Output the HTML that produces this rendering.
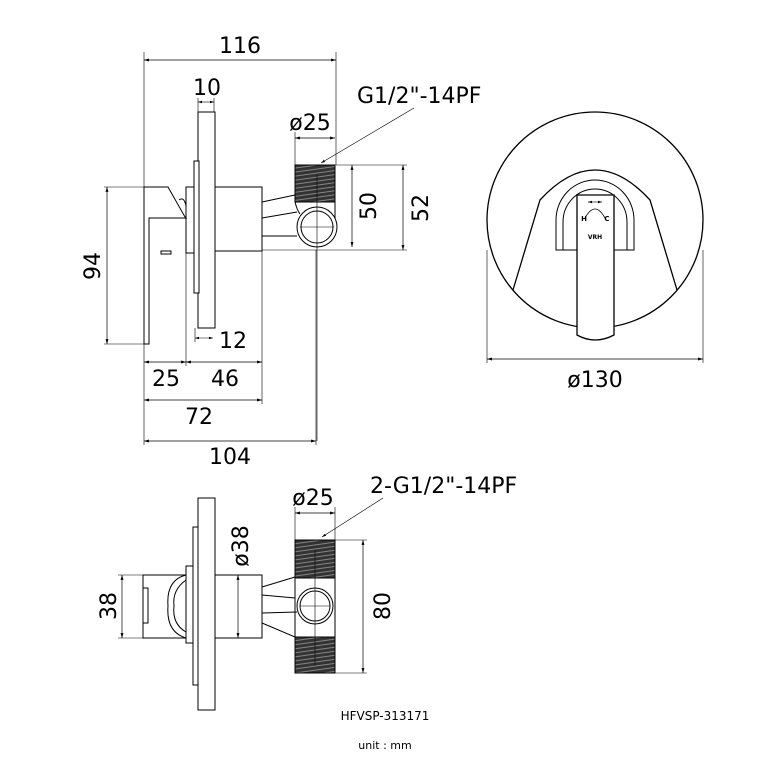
<!DOCTYPE html>
<html><head><meta charset="utf-8"><style>
html,body{margin:0;padding:0;background:#fff;}
svg{display:block;}
text{font-family:"DejaVu Sans","Liberation Sans",sans-serif;fill:#000;}
</style></head><body>
<svg width="768" height="768" viewBox="0 0 768 768" xmlns="http://www.w3.org/2000/svg">
<defs>
<marker id="a" viewBox="0 0 10 10" refX="10" refY="5" markerWidth="7" markerHeight="7" orient="auto-start-reverse"><path d="M0,2 L10,5 L0,8 z" fill="#000"/></marker>
<pattern id="th" width="4" height="4" patternUnits="userSpaceOnUse" patternTransform="rotate(-8)"><rect width="4" height="4" fill="#333"/><line x1="0" y1="3.5" x2="4" y2="3.5" stroke="#999" stroke-width="0.8"/></pattern>
</defs>
<g fill="none" stroke="#000" stroke-width="1">
<line x1="144" y1="60" x2="336" y2="60" stroke-width="0.7" marker-start="url(#a)" marker-end="url(#a)"/>
<line x1="144" y1="52" x2="144" y2="187" stroke-width="0.6"/>
<line x1="336" y1="52" x2="336" y2="165" stroke-width="0.6"/>
<line x1="198" y1="102" x2="214" y2="102" stroke-width="0.6" marker-start="url(#a)" marker-end="url(#a)"/>
<line x1="198" y1="98" x2="198" y2="112" stroke-width="0.6"/>
<line x1="214" y1="98" x2="214" y2="112" stroke-width="0.6"/>
<rect x="198" y="112" width="17" height="216" fill="#fff"/>
<rect x="194" y="161" width="5" height="132" fill="#fff"/>
<rect x="186" y="187" width="8" height="66" fill="#fff"/>
<rect x="215" y="187" width="47" height="64" fill="#fff"/>
<path d="M144,187 L168,187 L185,217 L186,218 L149,218 L149,344 L144,344 Z" fill="#fff"/>
<line x1="149" y1="218" x2="149" y2="251"/>
<path d="M179,200 q5,-4 7,6 l0,10" />
<rect x="161" y="251" width="10" height="3" fill="#fff"/>
<line x1="262" y1="202" x2="295" y2="195"/>
<line x1="262" y1="218" x2="297" y2="212"/>
<line x1="262" y1="236" x2="297" y2="236"/>
<rect x="295" y="165" width="40" height="37" fill="url(#th)"/>
<path d="M295,165 L295,202 Q297,210 300,214 M335,165 L335,228"/>
<circle cx="317" cy="227" r="20" fill="#fff"/>
<circle cx="317" cy="227" r="16"/>
<line x1="317" y1="175" x2="317" y2="441" stroke-width="0.6"/>
<line x1="300" y1="227" x2="334" y2="227" stroke-width="0.6"/>
<line x1="336" y1="165" x2="407" y2="165" stroke-width="0.6"/>
<line x1="262" y1="250" x2="407" y2="250" stroke-width="0.6"/>
<line x1="352" y1="165" x2="352" y2="247" stroke-width="0.7" marker-start="url(#a)" marker-end="url(#a)"/>
<line x1="403" y1="165" x2="403" y2="250" stroke-width="0.7" marker-start="url(#a)" marker-end="url(#a)"/>
<line x1="295" y1="132" x2="295" y2="165" stroke-width="0.6"/>
<line x1="295" y1="138" x2="335" y2="138" stroke-width="0.7" marker-start="url(#a)" marker-end="url(#a)"/>
<line x1="414" y1="108" x2="321" y2="163" stroke-width="0.6" marker-end="url(#a)"/>
<line x1="107" y1="187" x2="107" y2="344" stroke-width="0.7" marker-start="url(#a)" marker-end="url(#a)"/>
<line x1="104" y1="187" x2="144" y2="187" stroke-width="0.6"/>
<line x1="104" y1="344" x2="149" y2="344" stroke-width="0.6"/>
<line x1="195" y1="338" x2="213" y2="338" stroke-width="0.6" marker-start="url(#a)" marker-end="url(#a)"/>
<line x1="195" y1="328" x2="195" y2="342" stroke-width="0.6"/>
<line x1="144" y1="344" x2="144" y2="445" stroke-width="0.6"/>
<line x1="186" y1="253" x2="186" y2="366" stroke-width="0.6"/>
<line x1="262" y1="251" x2="262" y2="404" stroke-width="0.6"/>
<line x1="316" y1="250" x2="316" y2="445" stroke-width="0.6"/>
<line x1="144" y1="362" x2="186" y2="362" stroke-width="0.7" marker-start="url(#a)" marker-end="url(#a)"/>
<line x1="186" y1="362" x2="262" y2="362" stroke-width="0.7" marker-start="url(#a)" marker-end="url(#a)"/>
<line x1="144" y1="400" x2="262" y2="400" stroke-width="0.7" marker-start="url(#a)" marker-end="url(#a)"/>
<line x1="144" y1="441" x2="316" y2="441" stroke-width="0.7" marker-start="url(#a)" marker-end="url(#a)"/>
<circle cx="595" cy="220" r="108" stroke-width="1.3"/>
<path d="M513,290 L540,200 Q595,140 650,200 L677,290" stroke-width="1.3"/>
<path d="M556,250 L556,220 A39,40 0 0 1 634,220 L634,250 Z" stroke-width="1"/>
<path d="M563,250 L563,222 A32,33 0 0 1 627,222 L627,250" stroke-width="1"/>
<path d="M577,195 L614,195 L614,335 Q595,345 577,335 Z" fill="#fff" stroke-width="1.3"/>
<path d="M585,218 Q595,200 605,218" stroke-width="0.8"/>
<line x1="588" y1="202" x2="602" y2="202" stroke-width="0.6" marker-start="url(#a)" marker-end="url(#a)"/>
<line x1="487" y1="250" x2="487" y2="363" stroke-width="0.6"/>
<line x1="703" y1="250" x2="703" y2="363" stroke-width="0.6"/>
<line x1="487" y1="359" x2="703" y2="359" stroke-width="0.7" marker-start="url(#a)" marker-end="url(#a)"/>
<rect x="198" y="498" width="17" height="212" fill="#fff"/>
<rect x="193" y="527" width="5" height="158" fill="#fff"/>
<rect x="186" y="566" width="7" height="77" fill="#fff"/>
<rect x="143" y="575" width="43" height="63" fill="#fff"/>
<rect x="143" y="588" width="5" height="35"/>
<path d="M186,575 Q166,580 168,606 Q166,632 186,638"/>
<path d="M186,580 Q172,590 174,606 Q172,624 186,632"/>
<rect x="215" y="575" width="47" height="63" fill="#fff"/>
<line x1="262" y1="587" x2="295" y2="577"/>
<line x1="262" y1="595" x2="295" y2="598"/>
<line x1="262" y1="613" x2="297" y2="612"/>
<line x1="262" y1="623" x2="295" y2="637"/>
<rect x="295" y="540" width="40" height="38" fill="url(#th)"/>
<rect x="295" y="637" width="40" height="36" fill="url(#th)"/>
<path d="M295,578 L295,637 M335,578 L335,637"/>
<circle cx="315" cy="606" r="18" fill="#fff"/>
<circle cx="315" cy="606" r="15"/>
<line x1="315" y1="550" x2="315" y2="665" stroke-width="0.6"/>
<line x1="300" y1="606" x2="330" y2="606" stroke-width="0.6"/>
<line x1="335" y1="540" x2="367" y2="540" stroke-width="0.6"/>
<line x1="335" y1="673" x2="367" y2="673" stroke-width="0.6"/>
<line x1="363" y1="540" x2="363" y2="673" stroke-width="0.7" marker-start="url(#a)" marker-end="url(#a)"/>
<line x1="295" y1="507" x2="295" y2="540" stroke-width="0.6"/>
<line x1="335" y1="507" x2="335" y2="540" stroke-width="0.6"/>
<line x1="295" y1="513" x2="335" y2="513" stroke-width="0.7" marker-start="url(#a)" marker-end="url(#a)"/>
<line x1="383" y1="498" x2="322" y2="537" stroke-width="0.6" marker-end="url(#a)"/>
<line x1="238" y1="575" x2="238" y2="638" stroke-width="0.7" marker-start="url(#a)" marker-end="url(#a)"/>
<line x1="118" y1="575" x2="143" y2="575" stroke-width="0.6"/>
<line x1="118" y1="638" x2="143" y2="638" stroke-width="0.6"/>
<line x1="122" y1="575" x2="122" y2="638" stroke-width="0.7" marker-start="url(#a)" marker-end="url(#a)"/>
</g>
<g font-size="22">
<text x="240" y="53" text-anchor="middle">116</text>
<text x="207" y="95" text-anchor="middle">10</text>
<text x="357" y="103">G1/2"-14PF</text>
<text x="310" y="130" text-anchor="middle">ø25</text>
<text x="233" y="348" text-anchor="middle">12</text>
<text x="166" y="386" text-anchor="middle">25</text>
<text x="225" y="386" text-anchor="middle">46</text>
<text x="199" y="424" text-anchor="middle">72</text>
<text x="230" y="464" text-anchor="middle">104</text>
<text transform="translate(100,266) rotate(-90)" text-anchor="middle">94</text>
<text transform="translate(376,206) rotate(-90)" text-anchor="middle">50</text>
<text transform="translate(428,208) rotate(-90)" text-anchor="middle">52</text>
<text x="595" y="387" text-anchor="middle">ø130</text>
<text x="313" y="505" text-anchor="middle">ø25</text>
<text x="370" y="493">2-G1/2"-14PF</text>
<text transform="translate(248,546) rotate(-90)" text-anchor="middle">ø38</text>
<text transform="translate(116,606) rotate(-90)" text-anchor="middle">38</text>
<text transform="translate(390,606) rotate(-90)" text-anchor="middle">80</text>
</g>
<text x="584" y="221" font-size="7" font-weight="bold" text-anchor="middle">H</text>
<text x="607" y="221" font-size="7" font-weight="bold" text-anchor="middle">C</text>
<text x="595" y="239" font-size="6" font-weight="bold" text-anchor="middle">VRH</text>
<text x="385" y="720" font-size="12" text-anchor="middle">HFVSP-313171</text>
<text x="385" y="749" font-size="11" text-anchor="middle">unit : mm</text>
</svg>
</body></html>
